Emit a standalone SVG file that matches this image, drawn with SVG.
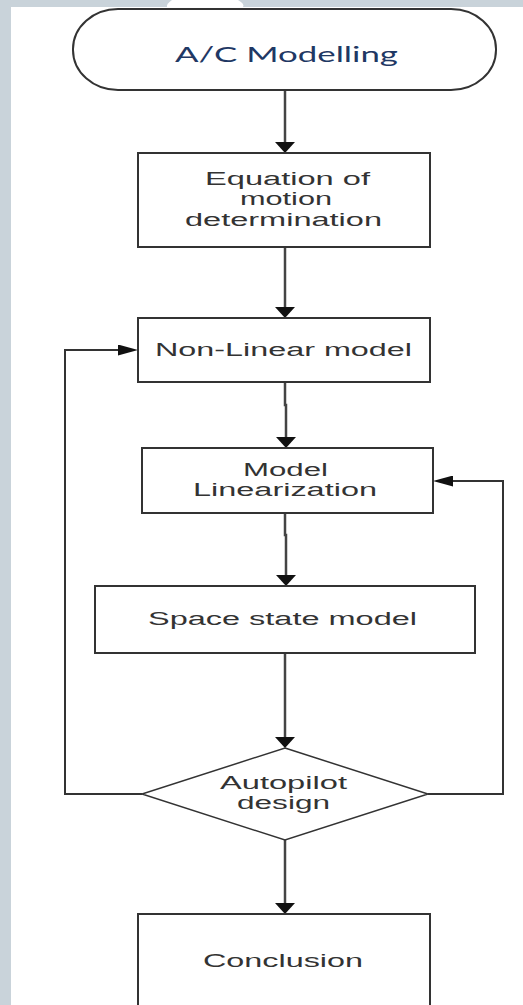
<svg xmlns="http://www.w3.org/2000/svg" width="523" height="1005" viewBox="0 0 523 1005">
  <style>
    .node { fill: #ffffff; stroke: #333333; stroke-width: 2; }
    .lbl { font-family: "Liberation Sans", Arial, sans-serif; font-size: 18px; fill: #333333; }
    .title { font-family: Lato, "Open Sans", sans-serif; font-size: 21px; fill: #1f3864; }
    .conn { fill: none; stroke: #444444; stroke-width: 2.5; }
    .loop { fill: none; stroke: #333333; stroke-width: 2; }
  </style>
  <defs>
    <marker id="ah-v" markerUnits="userSpaceOnUse" markerWidth="11" markerHeight="20" refX="5" refY="10" orient="auto">
      <path d="M0,0 L11,10 L0,20 Z" fill="#111111"/>
    </marker>
    <marker id="ah-h" markerUnits="userSpaceOnUse" markerWidth="20" markerHeight="11" refX="12" refY="5.5" orient="auto">
      <path d="M0,0 L20,5.5 L0,11 Z" fill="#111111"/>
    </marker>
  </defs>

  <g id="background">
    <rect x="0" y="0" width="523" height="1005" fill="#ffffff"/>
    <rect x="0" y="0" width="11" height="1005" fill="#c9d3da"/>
    <rect x="0" y="0" width="523" height="7" fill="#c9d3da"/>
    <path d="M172,0 L238,0 Q245,4 243,7 L167,7 Q166,4 172,0 Z" fill="#ffffff"/>
  </g>

  <g id="connectors">
    <line class="conn" x1="285" y1="90" x2="285" y2="147" marker-end="url(#ah-v)"/>
    <line class="conn" x1="285" y1="247" x2="285" y2="312" marker-end="url(#ah-v)"/>
    <path class="conn" d="M285,382 V405 H286 V442" marker-end="url(#ah-v)"/>
    <path class="conn" d="M285,513 V535 H286 V580" marker-end="url(#ah-v)"/>
    <line class="conn" x1="285" y1="653" x2="285" y2="742" marker-end="url(#ah-v)"/>
    <line class="conn" x1="285" y1="840" x2="285" y2="908" marker-end="url(#ah-v)"/>
    <path class="loop" d="M142,794 H65 V350 H130" marker-end="url(#ah-h)"/>
    <path class="loop" d="M428,794 H503 V481 H441" marker-end="url(#ah-h)"/>
  </g>

  <g id="node-ac-modelling">
    <rect class="node" x="73" y="9" width="423" height="81" rx="45" ry="40"/>
    <text class="title" x="175" y="62" textLength="223" lengthAdjust="spacingAndGlyphs">A/C Modelling</text>
  </g>

  <g id="node-equation">
    <rect class="node" x="138" y="153" width="292" height="94"/>
    <text class="lbl" x="205" y="185" textLength="165" lengthAdjust="spacingAndGlyphs">Equation of</text>
    <text class="lbl" x="240" y="205" textLength="92" lengthAdjust="spacingAndGlyphs">motion</text>
    <text class="lbl" x="185" y="226" textLength="197" lengthAdjust="spacingAndGlyphs">determination</text>
  </g>

  <g id="node-nonlinear">
    <rect class="node" x="138" y="318" width="292" height="64"/>
    <text class="lbl" x="155" y="356" textLength="257" lengthAdjust="spacingAndGlyphs">Non-Linear model</text>
  </g>

  <g id="node-linearization">
    <rect class="node" x="142" y="448" width="291" height="65"/>
    <text class="lbl" x="243" y="476" textLength="85" lengthAdjust="spacingAndGlyphs">Model</text>
    <text class="lbl" x="193" y="496" textLength="184" lengthAdjust="spacingAndGlyphs">Linearization</text>
  </g>

  <g id="node-space-state">
    <rect class="node" x="95" y="586" width="380" height="67"/>
    <text class="lbl" x="148" y="625" textLength="269" lengthAdjust="spacingAndGlyphs">Space state model</text>
  </g>

  <g id="node-autopilot">
    <polygon class="node" points="285,748 428,794 285,840 142,794" style="stroke-width:1.5"/>
    <text class="lbl" x="220" y="789" textLength="127" lengthAdjust="spacingAndGlyphs">Autopilot</text>
    <text class="lbl" x="237" y="809" textLength="93" lengthAdjust="spacingAndGlyphs">design</text>
  </g>

  <g id="node-conclusion">
    <rect class="node" x="138" y="914" width="292" height="100"/>
    <text class="lbl" x="203" y="967" textLength="160" lengthAdjust="spacingAndGlyphs">Conclusion</text>
  </g>
</svg>
